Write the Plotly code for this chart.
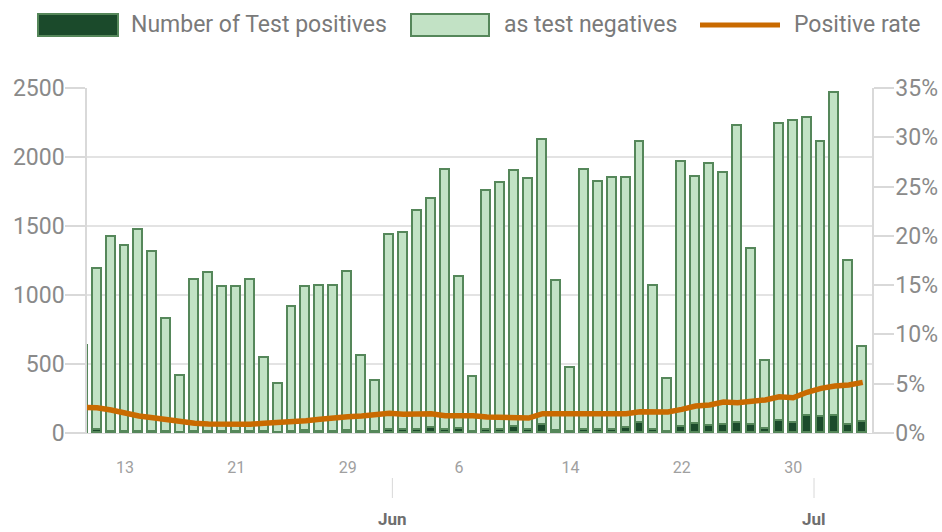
import plotly.graph_objects as go
import pandas as pd

dates = list(pd.date_range("2020-05-10", "2020-07-05", freq="D").strftime("%Y-%m-%d"))

positives = [10, 20, 8, 8, 10, 8, 5, 3, 8, 8, 6, 6, 8, 4, 3, 8, 15, 10, 10, 15, 6, 4,
             25, 25, 25, 38, 20, 28, 5, 20, 20, 40, 22, 55, 15, 6, 20, 25, 22, 35, 70, 20,
             10, 45, 65, 50, 60, 70, 55, 30, 87, 75, 120, 113, 125, 60, 82]

negatives = [620, 1170, 1410, 1349, 1461, 1304, 823, 410, 1101, 1151, 1054, 1050, 1101, 539,
             352, 907, 1041, 1053, 1053, 1152, 552, 373, 1412, 1424, 1586, 1660, 1884, 1100,
             403, 1736, 1789, 1861, 1816, 2066, 1089, 467, 1886, 1794, 1826, 1813, 2041, 1047,
             383, 1919, 1790, 1899, 1824, 2155, 1278, 492, 2152, 2188, 2163, 1998, 2339, 1186, 539]

positive_rate = [2.6, 2.57, 2.33, 2.0, 1.72, 1.55, 1.32, 1.12, 0.98, 0.91, 0.88, 0.88, 0.9, 0.98,
                 1.03, 1.15, 1.25, 1.39, 1.59, 1.66, 1.72, 1.83, 2.0, 1.9, 1.96, 1.96, 1.76, 1.8,
                 1.76, 1.62, 1.55, 1.59, 1.52, 1.96, 1.96, 2.0, 2.03, 2.06, 1.96, 1.96, 2.16, 2.2,
                 2.13, 2.4, 2.74, 2.84, 3.14, 3.07, 3.25, 3.35, 3.68, 3.58, 4.13, 4.53, 4.77, 4.87, 5.14]

day_ticks = ["2020-05-13", "2020-05-21", "2020-05-29", "2020-06-06", "2020-06-14",
             "2020-06-22", "2020-06-30"]
day_labels = ["13", "21", "29", "6", "14", "22", "30"]
month_ticks = ["2020-06-01 05:00", "2020-07-01 12:00"]
month_labels = ["Jun", "Jul"]
count_ticks = [0, 500, 1000, 1500, 2000, 2500]
rate_ticks = [0, 5, 10, 15, 20, 25, 30, 35]
rate_labels = ["0%", "5%", "10%", "15%", "20%", "25%", "30%", "35%"]

DARK = "#1b4a2b"
LIGHT = "#c2e2c5"
EDGE = "#55875a"
ORANGE = "#c96a00"
FONT = "Roboto"

# plot area in pixels
L, R, T, B = 87, 872, 88, 433
W, H = 942, 532


def px(x):
    return (x - L) / (R - L)


def py(y):
    return (B - y) / (B - T)


bar_w = 0.64 * 86400000

fig = go.Figure()
fig.add_trace(go.Bar(x=dates, y=positives, name="Number of Test positives",
                     marker=dict(color=DARK, line=dict(color=EDGE, width=1.8)), width=bar_w))
fig.add_trace(go.Bar(x=dates, y=negatives, name="as test negatives",
                     marker=dict(color=LIGHT, line=dict(color=EDGE, width=1.8)), width=bar_w))
fig.add_trace(go.Scatter(x=dates, y=positive_rate, name="Positive rate", yaxis="y2",
                         mode="lines", line=dict(color=ORANGE, width=5.5)))

shapes = []
annotations = []

# custom legend
leg = [
    (38, 118, "rect", DARK, "Number of Test positives", 129),
    (411, 489, "rect", LIGHT, "as test negatives", 502),
    (700, 780, "line", ORANGE, "Positive rate", 792),
]
for x0, x1, kind, col, text, tx in leg:
    if kind == "rect":
        shapes.append(dict(type="rect", xref="paper", yref="paper", x0=px(x0), x1=px(x1),
                           y0=py(36), y1=py(14), fillcolor=col, line=dict(color=EDGE, width=2)))
    else:
        shapes.append(dict(type="line", xref="paper", yref="paper", x0=px(x0), x1=px(x1),
                           y0=py(25), y1=py(25), line=dict(color=ORANGE, width=5)))
    annotations.append(dict(xref="paper", yref="paper", x=px(tx), y=py(24), text=text,
                            showarrow=False, xanchor="left", yanchor="middle",
                            font=dict(family=FONT, size=23, color="#7a7a7a")))

# month labels
for mt, ml in zip(month_ticks, month_labels):
    shapes.append(dict(type="line", xref="x", yref="paper", x0=mt, x1=mt, y0=py(478), y1=py(498),
                       line=dict(color="#d8d8d8", width=1)))
    annotations.append(dict(xref="x", yref="paper", x=mt, y=py(519), text="<b>" + ml + "</b>",
                            showarrow=False, xanchor="center", yanchor="middle",
                            font=dict(family=FONT, size=17, color="#6e6e6e")))

# faded day label outside the visible range
annotations.append(dict(xref="x", yref="paper", x="2020-05-05", y=py(463), text="5",
                        showarrow=False, xanchor="center", yanchor="middle",
                        font=dict(family=FONT, size=16, color="#e4e4e4")))

fig.update_layout(
    template="none",
    width=W, height=H,
    margin=dict(l=L, r=W - R, t=T, b=H - B, pad=0, autoexpand=False),
    paper_bgcolor="white", plot_bgcolor="white",
    barmode="stack", bargap=0,
    showlegend=False,
    hovermode=False,
    font=dict(family=FONT),
    shapes=shapes,
    annotations=annotations,
    xaxis=dict(
        type="date", automargin=False,
        range=["2020-05-10 06:30", "2020-07-05 16:00"],
        tickvals=day_ticks, ticktext=day_labels,
        ticks="outside", ticklen=20, tickcolor="rgba(0,0,0,0)",
        tickfont=dict(family=FONT, size=16, color="#a0a0a0"),
        showgrid=False, showline=True, linecolor="#d9d9d9", linewidth=1,
        zeroline=False, fixedrange=True,
    ),
    yaxis=dict(
        automargin=False,
        range=[0, 2500], tickvals=count_ticks,
        ticks="outside", ticklen=20, tickcolor="#d9d9d9", tickwidth=1.5,
        ticklabelstandoff=-4,
        tickfont=dict(family=FONT, size=23, color="#8a8a8a"),
        showgrid=True, gridcolor="#e3e3e3", gridwidth=1.5,
        showline=True, linecolor="#d9d9d9", linewidth=1.5,
        zeroline=False, fixedrange=True,
    ),
    yaxis2=dict(
        automargin=False,
        range=[0, 35], overlaying="y", side="right",
        tickvals=rate_ticks, ticktext=rate_labels,
        ticks="outside", ticklen=20, tickcolor="#d9d9d9", tickwidth=1.5,
        ticklabelstandoff=-3,
        tickfont=dict(family=FONT, size=23, color="#8a8a8a"),
        showgrid=False, showline=True, linecolor="#d9d9d9", linewidth=1.5,
        zeroline=False, fixedrange=True,
    ),
)

fig.write_html("out.html", config={"displayModeBar": False},
               post_script="document.body.style.margin='0';document.body.style.overflow='hidden';")
